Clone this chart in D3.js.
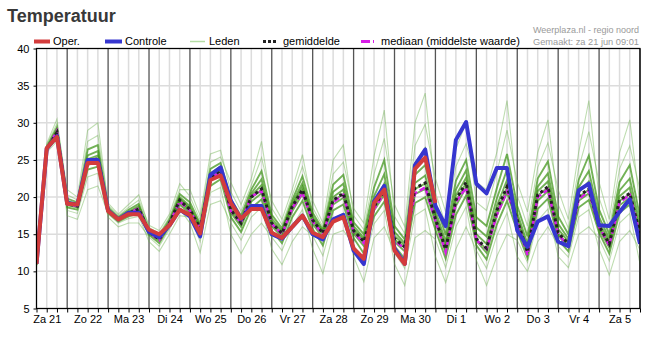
<!DOCTYPE html>
<html><head><meta charset="utf-8">
<script src="https://cdn.jsdelivr.net/npm/d3@7"></script>
<style>body{margin:0;background:#fff}svg{display:block;font-family:Arial,"Liberation Sans",sans-serif}</style>
</head><body><svg id="c" width="656" height="338"></svg>
<script>
const dayLabels = ["Za 21","Zo 22","Ma 23","Di 24","Wo 25","Do 26","Vr 27","Za 28","Zo 29","Ma 30","Di 1","Wo 2","Do 3","Vr 4","Za 5"];
const yTicks = [5,10,15,20,25,30,35,40];

const oper = [11.0,26.6,28.1,19.1,19.0,24.6,24.6,18.1,17.0,17.7,17.7,15.6,15.0,16.2,18.3,17.6,15.1,22.3,22.9,19.2,17.1,18.4,18.4,15.2,14.5,16.0,17.5,15.2,14.6,16.7,17.3,13.1,11.7,19.2,21.0,12.8,11.0,23.8,25.3,19.2];
const controle = [11.0,26.5,28.2,19.2,19.0,25.0,25.0,18.2,17.0,17.9,17.9,15.3,14.6,16.2,18.3,17.4,14.7,23.0,24.0,19.5,17.0,18.8,18.8,15.0,14.4,16.0,17.5,15.0,14.3,17.0,17.6,12.8,11.0,19.4,21.5,13.1,11.0,24.3,26.4,18.8,16.1,27.7,30.1,21.8,20.5,23.9,23.9,15.5,13.3,16.7,17.4,14.0,13.4,20.9,21.8,16.2,16.1,18.0,19.7,13.7];
const gemiddelde = [11.0,26.5,28.7,19.1,18.8,24.8,25.2,18.2,17.0,17.8,18.4,15.3,14.3,16.5,19.6,18.3,15.8,22.6,23.6,18.3,16.5,20.0,21.1,16.5,15.1,18.7,21.0,16.9,15.1,19.6,20.5,15.5,14.0,18.7,20.9,14.4,13.3,21.2,21.9,17.1,13.0,19.6,22.0,14.4,13.1,18.2,21.4,16.9,12.6,20.3,21.4,15.2,13.7,20.1,21.1,16.1,13.7,19.6,20.5,15.1];
const mediaan = [11.0,26.5,28.9,19.0,18.8,24.8,25.1,18.2,17.0,17.8,18.5,15.3,14.2,16.5,19.4,18.2,15.7,22.6,23.3,18.1,16.6,20.1,20.8,16.4,15.0,18.5,20.6,16.7,15.0,19.3,20.3,15.3,13.8,18.4,20.5,14.2,13.0,20.5,21.3,16.8,12.6,19.3,21.3,14.2,13.0,17.6,20.8,16.7,12.2,20.0,21.0,15.0,13.4,19.7,20.8,16.0,13.5,19.3,20.3,15.0];

const lid1 = [10.5,26.0,27.5,18.2,17.8,22.7,23.2,17.3,16.0,16.5,16.5,14.6,13.4,15.7,18.4,16.5,12.5,19.0,19.5,16.5,14.2,17.3,18.6,13.0,10.9,14.0,16.0,14.8,12.1,17.1,17.8,12.0,8.6,14.5,16.0,12.5,10.4,17.5,18.4,12.0,8.5,13.0,16.0,12.8,10.4,14.8,17.9,12.0,10.0,14.0,16.0,13.4,11.9,17.3,18.3,13.0,9.5,14.0,15.5,12.9];
const lid2 = [10.7,26.2,28.0,17.5,17.0,21.0,21.5,17.7,16.5,17.1,17.4,14.0,12.7,15.0,17.5,17.3,14.0,20.6,21.3,15.0,12.4,15.0,16.5,14.6,12.8,16.1,18.3,13.0,9.7,15.0,15.5,13.6,11.0,16.4,18.2,11.0,8.1,14.5,15.5,14.3,10.5,16.0,18.7,11.5,8.1,12.0,15.0,14.2,11.2,16.8,18.4,12.0,10.5,15.0,16.0,14.4,11.4,16.5,17.8,11.0];
const lid3 = [10.9,26.4,28.3,18.6,18.3,23.7,24.1,17.9,16.7,17.4,17.8,14.9,13.8,16.1,19.0,17.8,14.8,21.5,22.4,17.3,15.3,18.5,19.7,15.5,13.8,17.3,19.5,15.7,13.5,18.2,19.0,14.5,12.4,17.4,19.4,13.4,11.7,19.2,20.0,15.6,11.7,17.6,20.2,13.5,11.6,16.3,19.5,15.4,11.8,18.4,19.8,14.2,12.7,18.6,19.6,15.2,12.4,17.9,19.0,13.9];
const lid4 = [10.9,26.4,28.6,18.9,18.6,24.3,24.8,18.1,16.9,17.6,18.2,15.1,14.1,16.3,19.3,18.1,15.4,22.2,23.1,17.9,16.0,19.4,20.5,16.1,14.6,18.1,20.4,16.4,14.5,19.0,19.9,15.1,13.4,18.2,20.3,14.0,12.7,20.4,21.1,16.5,12.5,18.8,21.3,14.1,12.5,17.5,20.6,16.3,12.3,19.5,20.8,14.8,13.3,19.5,20.5,15.7,13.2,18.9,19.9,14.6];
const lid5 = [11.0,26.5,28.7,19.1,18.8,24.7,25.1,18.2,17.0,17.8,18.4,15.3,14.3,16.5,19.6,18.3,15.7,22.5,23.5,18.2,16.4,19.9,21.0,16.4,15.0,18.6,20.9,16.8,15.0,19.5,20.4,15.4,13.9,18.6,20.8,14.3,13.2,21.1,21.8,17.0,12.9,19.5,21.9,14.3,13.0,18.1,21.3,16.8,12.5,20.2,21.3,15.1,13.6,20.0,21.0,16.0,13.6,19.5,20.4,15.0];
const lid6 = [11.0,26.6,28.8,19.3,18.9,25.1,25.6,18.3,17.1,17.9,18.6,15.4,14.4,16.6,19.8,18.5,15.9,22.9,23.8,18.6,16.7,20.2,21.6,16.7,15.3,18.9,21.4,17.1,15.2,20.0,21.0,15.7,14.2,19.2,21.8,14.8,13.5,21.9,22.9,17.5,13.4,20.2,22.6,15.0,13.7,18.8,22.3,17.3,13.0,20.8,22.1,15.7,14.0,20.6,22.1,16.6,14.0,20.1,21.3,15.6];
const lid7 = [11.1,26.6,29.1,19.5,19.0,25.6,26.2,18.4,17.1,18.0,18.8,15.5,14.5,16.7,20.0,18.8,16.1,23.2,24.1,19.0,17.0,20.5,22.4,17.1,15.5,19.2,21.9,17.4,15.4,20.7,21.8,16.1,14.5,20.1,23.1,15.3,13.8,23.0,24.3,18.2,14.0,21.0,23.6,15.9,14.7,19.8,23.7,17.9,13.7,21.4,23.2,16.4,14.4,21.3,23.5,17.3,14.4,20.9,22.5,16.3];
const lid8 = [11.2,26.8,29.4,19.8,19.3,26.4,27.0,18.6,17.3,18.3,19.1,15.6,14.8,17.0,20.4,19.3,16.4,23.8,24.6,19.7,17.5,21.0,23.5,17.6,15.8,19.6,22.8,17.9,15.6,21.7,23.0,16.6,15.0,21.3,25.0,16.1,14.3,24.5,26.5,19.2,14.9,22.2,25.0,17.3,16.1,21.2,25.8,18.8,14.7,22.5,24.8,17.4,15.0,22.3,25.6,18.3,15.0,22.0,24.3,17.3];
const lid9 = [11.5,27.2,30.5,20.3,19.6,27.5,28.3,19.2,17.7,19.0,20.3,15.9,15.1,17.3,21.0,21.0,17.5,25.8,26.3,20.7,18.1,21.6,25.3,19.5,17.0,21.0,25.7,18.6,16.0,23.1,24.7,18.5,16.5,25.5,31.7,17.4,15.1,26.9,29.8,22.5,18.0,26.5,30.0,19.3,18.2,23.3,29.0,22.0,18.0,26.0,30.4,19.0,15.8,23.9,28.8,22.0,17.0,26.0,30.4,18.9];
const lid10 = [11.3,27.0,29.9,21.0,20.0,29.0,30.0,18.9,17.5,18.6,19.6,16.2,15.5,17.7,21.8,20.1,16.9,24.7,25.4,22.0,19.0,22.5,27.5,18.5,16.3,20.2,24.1,19.5,16.5,25.0,27.0,17.5,15.6,23.1,27.9,19.0,16.0,30.0,34.0,20.6,16.3,24.1,27.2,22.0,21.0,26.0,33.0,20.2,16.1,24.0,27.3,21.0,17.0,26.0,33.0,19.9,15.8,23.8,26.9,21.0];
const leden = [lid1,lid2,lid3,lid4,lid5,lid6,lid7,lid8,lid9,lid10];

const svg = d3.select("#c");
const L = 36.5, R = 640, T = 48.5, B = 308.5;
const start = new Date(2025,5,21,6), end = new Date(2025,6,6,0);
const tAt = i => new Date(start.getTime() + i*6*3600e3);
const x = d3.scaleTime().domain([start,end]).range([L,R]);
const y = d3.scaleLinear().domain([5,40]).range([B,T]);

// title
svg.append("text").attr("x",7).attr("y",21.5).attr("font-size",18).attr("font-weight","bold").attr("fill","#383838").text("Temperatuur");
svg.append("text").attr("x",639).attr("y",33).attr("text-anchor","end").attr("font-size",9.8).attr("fill","#9a9a9a")
  .attr("textLength",106).attr("lengthAdjust","spacingAndGlyphs").text("Weerplaza.nl - regio noord");
svg.append("text").attr("x",639).attr("y",45).attr("text-anchor","end").attr("font-size",9.8).attr("fill","#9a9a9a")
  .attr("textLength",106).attr("lengthAdjust","spacingAndGlyphs").text("Gemaakt: za 21 jun 09:01");

// grid
const steps = d3.timeHour.every(6).range(start, new Date(end.getTime()+1));
const g = svg.append("g");
g.selectAll("line.h").data(yTicks).join("line").attr("x1",L).attr("x2",R).attr("y1",d=>y(d)).attr("y2",d=>y(d)).attr("stroke","#dcdcdc").attr("stroke-width",1.5);
g.selectAll("line.v").data(steps.filter(d=>d.getHours()!==0)).join("line").attr("x1",d=>x(d)).attr("x2",d=>x(d)).attr("y1",T).attr("y2",B).attr("stroke","#dcdcdc").attr("stroke-width",1.5);
g.selectAll("line.d").data(steps.filter(d=>d.getHours()===0)).join("line").attr("x1",d=>x(d)).attr("x2",d=>x(d)).attr("y1",T).attr("y2",B).attr("stroke","#555").attr("stroke-width",1.3);

const line = d3.line().x((d,i)=>x(tAt(i))).y(d=>y(d));
svg.append("clipPath").attr("id","pc").append("rect").attr("x",L).attr("y",T).attr("width",R-L).attr("height",B-T);
const pg = svg.append("g").attr("clip-path","url(#pc)");
pg.selectAll("path.lid").data(leden).join("path").attr("d",line).attr("fill","none")
  .attr("stroke",(d,i)=> (i<2||i>7)?"rgb(110,180,80)":"rgb(55,145,15)")
  .attr("stroke-width",(d,i)=> (i<2||i>7)?1.1:1.9)
  .attr("stroke-opacity",(d,i)=> (i<2||i>7)?0.45:0.7);
pg.append("path").attr("d",line(mediaan)).attr("fill","none").attr("stroke","#d81ee8").attr("stroke-width",2.5).attr("stroke-dasharray","6,3");
pg.append("path").attr("d",line(gemiddelde)).attr("fill","none").attr("stroke","#222").attr("stroke-width",3).attr("stroke-dasharray","3,3");
pg.append("path").attr("d",line(controle)).attr("fill","none").attr("stroke","#3636cf").attr("stroke-width",4).attr("stroke-linejoin","round");
pg.append("path").attr("d",line(oper)).attr("fill","none").attr("stroke","#d33c3c").attr("stroke-width",4).attr("stroke-linejoin","round");

// axes
const ya = svg.append("g").attr("transform",`translate(${L},0)`).call(d3.axisLeft(y).tickValues(yTicks).tickSize(3).tickPadding(4));
ya.selectAll("text").attr("font-size",11).attr("fill","#000").attr("font-family","Arial,'Liberation Sans',sans-serif");
ya.select(".domain").remove();
const xa = svg.append("g").attr("transform",`translate(0,${B})`).call(d3.axisBottom(x).tickValues(steps).tickSize(4).tickFormat(d=> d.getHours()===12 ? dayLabels[Math.round((d-new Date(2025,5,21,12))/864e5)] : ""));
xa.selectAll("text").attr("font-size",11).attr("fill","#000").attr("y",7).attr("font-family","Arial,'Liberation Sans',sans-serif");
xa.select(".domain").remove();
svg.append("rect").attr("x",L).attr("y",T).attr("width",R-L).attr("height",B-T).attr("fill","none").attr("stroke","#000").attr("stroke-width",1.2);

// legend
const lg = svg.append("g").attr("font-size",11);
const ly = 41.5, lt = 45;
lg.append("line").attr("x1",34).attr("x2",50).attr("y1",ly).attr("y2",ly).attr("stroke","#d33c3c").attr("stroke-width",4);
lg.append("text").attr("x",53).attr("y",lt).text("Oper.");
lg.append("line").attr("x1",105).attr("x2",122).attr("y1",ly).attr("y2",ly).attr("stroke","#3636cf").attr("stroke-width",4);
lg.append("text").attr("x",125).attr("y",lt).text("Controle");
lg.append("line").attr("x1",190).attr("x2",205).attr("y1",ly).attr("y2",ly).attr("stroke","#b4dca4").attr("stroke-width",1.5);
lg.append("text").attr("x",209).attr("y",lt).text("Leden");
lg.append("line").attr("x1",263).attr("x2",278).attr("y1",ly).attr("y2",ly).attr("stroke","#222").attr("stroke-width",3).attr("stroke-dasharray","3,2");
lg.append("text").attr("x",283).attr("y",lt).text("gemiddelde");
lg.append("line").attr("x1",361).attr("x2",376).attr("y1",ly).attr("y2",ly).attr("stroke","#d81ee8").attr("stroke-width",3).attr("stroke-dasharray","9,3,1,3");
lg.append("text").attr("x",381).attr("y",lt).text("mediaan (middelste waarde)");
</script></body></html>
